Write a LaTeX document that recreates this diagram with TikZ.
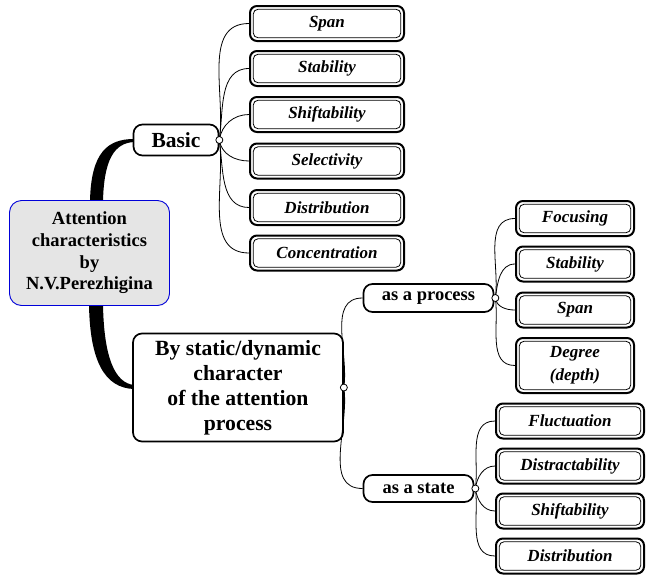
\documentclass[tikz,border=0pt]{standalone}
\usepackage{fontspec}
\setmainfont{Liberation Serif}
\begin{document}
\begin{tikzpicture}[x=1pt,y=-1pt,
  rootbox/.style={draw=blue!85!black, line width=0.9pt, fill=black!10, rounded corners=12pt,
    align=center, inner sep=0pt, font=\bfseries\fontsize{18.5}{21.7}\selectfont},
  branchbox/.style={draw, line width=1.7pt, fill=white, rounded corners=9pt, align=center, inner sep=0pt},
  leafbox/.style={draw, line width=2pt, fill=white, rounded corners=7pt, align=center, inner sep=0pt,
    font=\bfseries\itshape\fontsize{17}{23}\selectfont,
    path picture={\draw[line width=0.8pt, rounded corners=5pt]
      ([shift={(3.2pt,3.2pt)}]path picture bounding box.south west) rectangle
      ([shift={(-3.2pt,-3.2pt)}]path picture bounding box.north east);}},
  link/.style={line width=0.8pt},
  up/.style={out=82,in=180},
  down/.style={out=-82,in=180},
  joint/.style={circle, draw, line width=0.8pt, fill=white, minimum size=7pt, inner sep=0pt}
]
\useasboundingbox (0,0) rectangle (646,574);

% tapered main branches from the root
\fill (90,201) .. controls (91,152) and (108,139) .. (134,139)
  -- (134,142) .. controls (114,143) and (104,160) .. (103,201) -- cycle;
\fill (89,305) .. controls (90,360) and (104,388) .. (134,389)
  -- (134,385) .. controls (115,383) and (104,358) .. (103,305) -- cycle;

% root and first-level branches
\node[rootbox, minimum width=160pt, minimum height=105pt] (root) at (89.5,253)
  {Attention\\characteristics\\by\\N.V.Perezhigina};
\node[branchbox, minimum width=85pt, minimum height=31pt,
  font=\bfseries\fontsize{21.5}{24}\selectfont] (basic) at (176,140) {Basic};
\node[branchbox, minimum width=210pt, minimum height=108pt,
  font=\bfseries\fontsize{21.7}{25}\selectfont] (dyn) at (238,387.5)
  {By static/dynamic\\character\\of the attention\\process};
\node[branchbox, minimum width=130pt, minimum height=28pt,
  font=\bfseries\fontsize{18.5}{21}\selectfont] (proc) at (428.5,298) {as a process};
\node[branchbox, minimum width=110pt, minimum height=27pt,
  font=\bfseries\fontsize{18.5}{21}\selectfont] (state) at (418.5,488.5) {as a state};

% leaves of "Basic"
\node[leafbox, minimum width=154pt, minimum height=35pt] (b1) at (327,23.5) {Span};
\node[leafbox, minimum width=154pt, minimum height=35pt] (b2) at (327,68.5) {Stability};
\node[leafbox, minimum width=154pt, minimum height=35pt] (b3) at (327,114.5) {Shiftability};
\node[leafbox, minimum width=154pt, minimum height=35pt] (b4) at (327,161) {Selectivity};
\node[leafbox, minimum width=154pt, minimum height=35pt] (b5) at (327,207.5) {Distribution};
\node[leafbox, minimum width=154pt, minimum height=35pt] (b6) at (327,253) {Concentration};

% leaves of "as a process"
\node[leafbox, minimum width=118pt, minimum height=35pt] (p1) at (575,218.5) {Focusing};
\node[leafbox, minimum width=118pt, minimum height=35pt] (p2) at (575,264) {Stability};
\node[leafbox, minimum width=118pt, minimum height=35pt] (p3) at (575,310) {Span};
\node[leafbox, minimum width=118pt, minimum height=55pt] (p4) at (575,365.5) {Degree\\(depth)};

% leaves of "as a state"
\node[leafbox, minimum width=148pt, minimum height=35pt] (s1) at (570,421) {Fluctuation};
\node[leafbox, minimum width=148pt, minimum height=35pt] (s2) at (570,466) {Distractability};
\node[leafbox, minimum width=148pt, minimum height=35pt] (s3) at (570,511) {Shiftability};
\node[leafbox, minimum width=148pt, minimum height=35pt] (s4) at (570,556) {Distribution};

% connection joints
\coordinate (jb) at (basic.east);
\coordinate (jd) at (dyn.east);
\coordinate (jp) at ([xshift=1pt]proc.east);
\coordinate (js) at ([xshift=1pt]state.east);

\draw[link] (jb) to[up] (b1.west);
\draw[link] (jb) to[up] (b2.west);
\draw[link] (jb) to[up] (b3.west);
\draw[link] (jb) to[down] (b4.west);
\draw[link] (jb) to[down] (b5.west);
\draw[link] (jb) to[down] (b6.west);

\draw[link] (jd) to[up] (proc.west);
\draw[link] (jd) to[down] (state.west);

\draw[link] (jp) to[up] (p1.west);
\draw[link] (jp) to[up] (p2.west);
\draw[link] (jp) to[down] (p3.west);
\draw[link] (jp) to[down] (p4.west);

\draw[link] (js) to[up] (s1.west);
\draw[link] (js) to[up] (s2.west);
\draw[link] (js) to[down] (s3.west);
\draw[link] (js) to[down] (s4.west);

\node[joint] at (jb) {};
\node[joint] at (jd) {};
\node[joint] at (jp) {};
\node[joint] at (js) {};
\end{tikzpicture}
\end{document}
